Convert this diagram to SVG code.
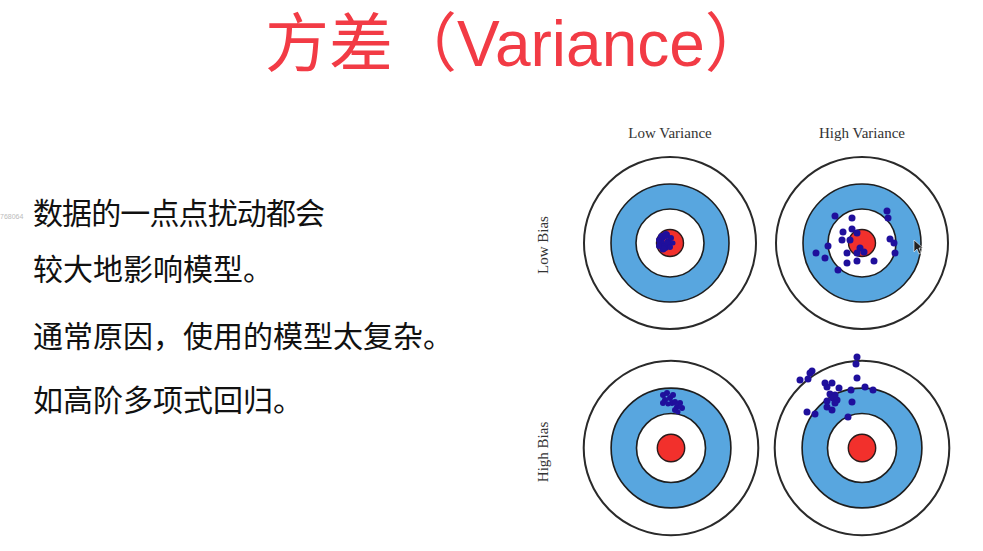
<svg xmlns="http://www.w3.org/2000/svg" width="983" height="551" viewBox="0 0 983 551">
<defs>
<style>
.title{font-family:"Liberation Sans","Noto Sans CJK SC",sans-serif;font-size:64px;fill:#f23b45}
.body{font-family:"Noto Sans CJK SC",sans-serif;font-size:30px;fill:#111}
.lab{font-family:"Liberation Serif",serif;font-size:15px;fill:#333}
.outer{fill:#fff;stroke:#2a2a2a;stroke-width:2}
.blue{fill:#58a6df;stroke:#1e1e1e;stroke-width:1.6}
.white{fill:#fff;stroke:#1e1e1e;stroke-width:1.6}
.red{fill:#f2302c;stroke:#2a1a1a;stroke-width:1.4}
.dot{fill:#1f0f9c}
</style>
<g id="target">
<circle class="outer" r="86"/>
<circle class="blue" r="59"/>
<circle class="white" r="34"/>
<circle class="red" r="13.5"/>
</g>
</defs>
<rect width="983" height="551" fill="#fff"/>
<text class="title" x="265" y="66">方差（Variance）</text>
<text x="0" y="219" font-family="Liberation Sans,sans-serif" font-size="7" fill="#bbb">768064</text>
<g id="text-body">
<text class="body" x="33" y="224" textLength="292" lengthAdjust="spacing">数据的一点点扰动都会</text>
<text class="body" x="33" y="280">较大地影响模型。</text>
<text class="body" x="33" y="347">通常原因，使用的模型太复杂。</text>
<text class="body" x="33" y="411">如高阶多项式回归。</text>
</g>
<g id="labels">
<text class="lab" x="670" y="138" text-anchor="middle">Low Variance</text>
<text class="lab" x="862" y="138" text-anchor="middle">High Variance</text>
<text class="lab" transform="translate(548,245) rotate(-90)" text-anchor="middle">Low Bias</text>
<text class="lab" transform="translate(548,452) rotate(-90)" text-anchor="middle">High Bias</text>
</g>
<g id="lowbias-lowvar">
<use href="#target" x="670" y="243"/>
<g class="dot">
<circle cx="662" cy="237" r="4"/><circle cx="666" cy="235" r="4"/><circle cx="661" cy="243" r="4"/>
<circle cx="665" cy="247" r="4"/><circle cx="668" cy="242" r="3.5"/><circle cx="663" cy="249" r="3.5"/>
<circle cx="671" cy="238" r="3"/><circle cx="670" cy="247" r="3"/><circle cx="659" cy="240" r="3"/>
<circle cx="673" cy="243" r="2.5"/><circle cx="659" cy="246" r="3"/>
</g>
</g>
<g id="lowbias-highvar">
<use href="#target" x="862" y="243"/>
<g class="dot">
<circle cx="835" cy="216" r="3.5"/><circle cx="852" cy="218" r="3.5"/><circle cx="887" cy="211" r="3.5"/>
<circle cx="888" cy="218" r="3.5"/><circle cx="843" cy="232" r="3.5"/><circle cx="852" cy="229" r="3.5"/>
<circle cx="857" cy="233" r="3.5"/><circle cx="842" cy="240" r="3.5"/><circle cx="850" cy="240" r="3.5"/>
<circle cx="828" cy="246" r="3.5"/><circle cx="816" cy="253" r="3.5"/><circle cx="825" cy="258" r="3.5"/>
<circle cx="838" cy="270" r="3.5"/><circle cx="847" cy="263" r="3.5"/><circle cx="847" cy="253" r="3.5"/>
<circle cx="857" cy="253" r="3.5"/><circle cx="860" cy="248" r="3.5"/><circle cx="864" cy="252" r="3.5"/>
<circle cx="857" cy="261" r="3.5"/><circle cx="874" cy="261" r="3.5"/><circle cx="890" cy="239" r="3.5"/>
<circle cx="894" cy="243" r="3.5"/><circle cx="895" cy="253" r="3.5"/>
</g>
<path d="M914,240 L914,252 L917,249 L919,254 L921,253 L919,248 L923,248 Z" fill="#222" stroke="#fff" stroke-width="0.6"/>
</g>
<g id="highbias-lowvar">
<use href="#target" x="671" y="448" transform="translate(671,448) scale(1.015) translate(-671,-448)"/>
<g class="dot">
<circle cx="663" cy="395" r="3"/><circle cx="667" cy="393" r="3"/><circle cx="665" cy="400" r="3"/>
<circle cx="670" cy="398" r="3"/><circle cx="672" cy="403" r="3"/><circle cx="675" cy="402" r="3"/>
<circle cx="677" cy="407" r="3"/><circle cx="680" cy="403" r="3"/><circle cx="682" cy="408" r="3"/>
<circle cx="675" cy="410" r="3"/><circle cx="663" cy="403" r="3"/><circle cx="673" cy="395" r="3"/>
<circle cx="668" cy="404" r="2.5"/><circle cx="678" cy="412" r="2.5"/>
</g>
</g>
<g id="highbias-highvar">
<use href="#target" x="862" y="448" transform="translate(862,448) scale(1.015) translate(-862,-448)"/>
<g class="dot">
<circle cx="857" cy="357" r="3.5"/><circle cx="856" cy="364" r="3.5"/><circle cx="812" cy="371" r="3.5"/>
<circle cx="810" cy="373" r="3.5"/><circle cx="800" cy="380" r="3.5"/><circle cx="808" cy="379" r="3.5"/>
<circle cx="857" cy="378" r="3.5"/><circle cx="825" cy="383" r="3.5"/><circle cx="832" cy="383" r="3.5"/>
<circle cx="827" cy="387" r="3.5"/><circle cx="839" cy="388" r="3.5"/><circle cx="851" cy="390" r="3.5"/>
<circle cx="865" cy="387" r="3.5"/><circle cx="873" cy="390" r="3.5"/><circle cx="830" cy="394" r="3.5"/>
<circle cx="835" cy="395" r="3.5"/><circle cx="833" cy="398" r="3.5"/><circle cx="837" cy="400" r="3.5"/>
<circle cx="827" cy="401" r="3.5"/><circle cx="835" cy="403" r="3.5"/><circle cx="852" cy="402" r="3.5"/>
<circle cx="827" cy="407" r="3.5"/><circle cx="832" cy="410" r="3.5"/><circle cx="807" cy="412" r="3.5"/>
<circle cx="815" cy="414" r="3.5"/><circle cx="848" cy="417" r="3.5"/>
</g>
</g>
</svg>
